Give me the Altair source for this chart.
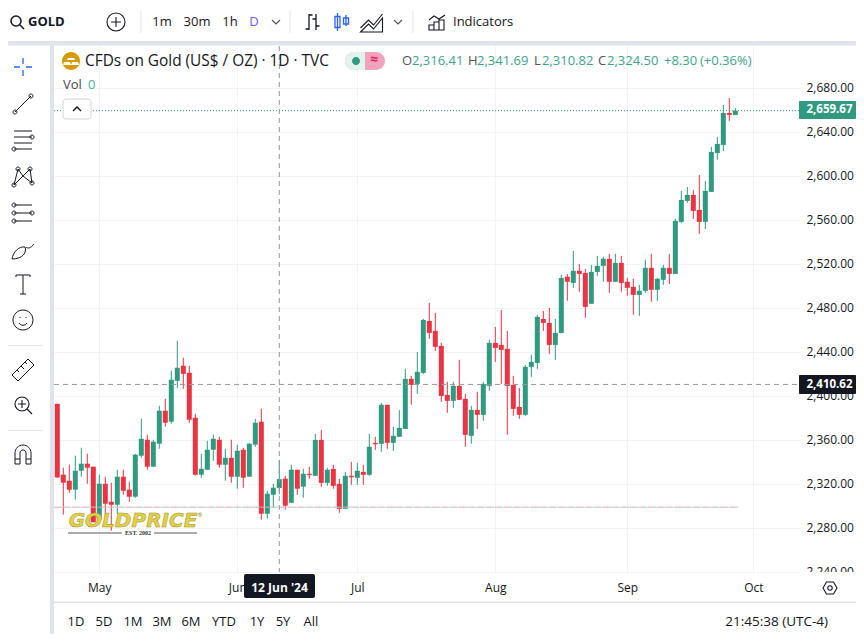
import altair as alt
import pandas as pd

FONT = "Open Sans"
UP, DOWN = "#2f9a7f", "#ea3343"
INK = "#131722"
BAND = "#e0e3eb"
GRID = "#f1f3f6"

# Left-to-right daily candles, 22 Apr 2024 to 26 Sep 2024 (weekdays only)
opens = [2393.0,2328.5,2323.0,2314.9,2332.1,2338.5,2335.8,2287.6,2320.3,2303.9,2301.2,2326.7,2314.9,2308.5,2345.8,2360.3,2335.8,2356.7,2386.7,2376.7,
         2413.9,2427.6,2421.2,2380.3,2328.5,2333.0,2351.2,2360.3,2337.6,2343.9,2326.7,2351.2,2326.7,2355.8,2376.7,2293.0,2310.3,2316.41,2324.9,2303.0,
         2333.0,2317.6,2329.3,2327.5,2360.2,2321.1,2333.9,2320.2,2297.5,2327.5,2325.7,2331.1,2328.4,2357.5,2356.6,2392.1,2357.5,2363.0,2370.2,2415.7,
         2411.1,2421.1,2468.4,2459.3,2445.7,2401.1,2395.7,2409.3,2397.5,2363.9,2387.5,2383.0,2409.3,2448.4,2446.6,2443.0,2410.2,2390.2,2383.0,2426.6,
         2430.2,2470.2,2466.6,2446.6,2457.5,2508.5,2503.0,2514.0,2512.1,2484.0,2513.0,2518.5,2524.9,2504.0,2521.2,2504.0,2499.4,2492.1,2495.8,2516.7,
         2496.7,2505.8,2516.7,2511.2,2558.5,2577.6,2583.0,2569.4,2558.5,2585.8,2621.2,2628.5,2657.6,2655.8]
highs = [2393.0,2334.9,2337.6,2345.8,2353.0,2347.6,2335.8,2328.5,2326.7,2321.2,2333.0,2333.0,2322.1,2347.6,2379.4,2364.9,2360.3,2391.2,2397.6,2423.0,
         2450.3,2434.9,2427.6,2383.9,2347.6,2359.4,2364.9,2363.0,2352.1,2360.3,2355.8,2353.0,2357.6,2379.4,2388.5,2313.9,2320.3,2341.69,2327.6,2337.6,
         2333.0,2333.9,2335.7,2365.7,2369.3,2334.8,2337.5,2324.8,2331.1,2340.2,2339.3,2337.5,2365.7,2363.0,2393.9,2392.1,2372.1,2387.5,2424.8,2418.4,
         2440.2,2470.2,2484.8,2475.7,2448.4,2413.0,2413.0,2433.0,2402.1,2391.1,2403.9,2413.0,2451.1,2463.0,2478.4,2459.3,2418.4,2407.5,2428.4,2437.5,
         2473.9,2477.5,2480.2,2470.2,2510.3,2511.2,2532.1,2520.3,2515.8,2519.4,2527.6,2526.7,2529.4,2529.4,2527.6,2507.6,2506.7,2501.2,2524.0,2529.4,
         2507.6,2519.4,2529.4,2561.2,2586.7,2590.3,2587.6,2601.2,2595.8,2626.7,2635.8,2664.9,2671.2,2662.1]
lows = [2325.5,2292.1,2312.1,2305.8,2326.7,2320.3,2285.2,2287.0,2290.6,2277.6,2293.0,2310.3,2303.9,2307.6,2343.9,2333.0,2335.8,2352.1,2372.1,2374.9,
        2407.6,2406.7,2375.8,2327.6,2325.8,2333.0,2341.2,2334.9,2323.0,2321.2,2315.8,2316.7,2326.7,2353.9,2287.6,2288.5,2298.5,2310.82,2296.7,2303.0,
        2310.3,2307.6,2324.8,2327.5,2317.5,2318.4,2315.7,2293.9,2297.5,2319.3,2319.3,2319.3,2327.5,2351.1,2349.3,2352.1,2350.2,2363.0,2370.2,2392.1,
        2402.1,2420.2,2452.1,2441.1,2394.8,2384.8,2389.3,2396.6,2353.9,2356.6,2370.2,2377.5,2404.8,2431.1,2411.1,2364.8,2382.1,2379.3,2382.1,2417.5,
        2424.8,2459.3,2438.4,2433.0,2457.0,2486.7,2498.5,2494.9,2471.2,2484.0,2509.4,2504.0,2494.0,2504.0,2494.9,2491.2,2474.0,2473.0,2494.0,2485.8,
        2486.7,2501.2,2502.1,2511.2,2557.6,2575.8,2561.2,2547.6,2552.1,2585.8,2614.9,2623.0,2650.3,2655.8]
closes = [2326.1,2321.2,2314.9,2332.1,2338.5,2334.9,2285.2,2320.3,2302.1,2301.2,2326.7,2313.9,2308.5,2346.7,2361.2,2335.8,2358.5,2386.7,2375.8,2414.9,
          2425.8,2420.3,2378.5,2328.5,2333.9,2351.2,2361.2,2337.6,2343.9,2326.7,2350.3,2325.8,2356.7,2375.8,2293.0,2311.2,2316.7,2324.50,2300.3,2333.0,
          2315.8,2329.4,2328.4,2360.2,2321.1,2333.0,2318.4,2297.5,2327.5,2326.6,2332.1,2328.4,2353.9,2356.6,2392.1,2357.5,2363.9,2371.1,2415.7,2410.2,
          2422.1,2469.3,2457.5,2444.8,2400.2,2395.7,2409.3,2396.6,2364.8,2387.5,2383.0,2411.1,2448.4,2443.9,2442.1,2409.3,2388.4,2383.0,2426.6,2431.1,
          2472.1,2466.6,2446.6,2457.5,2507.5,2504.0,2514.0,2511.2,2481.2,2513.0,2518.5,2524.9,2504.0,2521.2,2503.0,2498.5,2492.1,2495.8,2516.7,2496.7,
          2506.7,2516.7,2511.2,2559.4,2578.5,2583.0,2568.5,2558.5,2586.7,2622.1,2629.4,2657.6,2655.8,2659.67]

month_ticks = [7, 30, 50, 73, 95, 116]
month_names = ["May", "Jun", "Jul", "Aug", "Sep", "Oct"]
price_ticks = list(range(2240, 2681, 40))

last_price = 2659.67
cross_price = 2410.62
cross_bar = 37
low_price = 2299.0

ranges = ["1D", "5D", "1M", "3M", "6M", "YTD", "1Y", "5Y", "All"]
range_x = [76, 104, 133, 162, 191, 224, 257, 283, 311]
intervals = ["1m", "30m", "1h"]
interval_x = [162, 197, 230]
ohlc_letters = ["O", "H", "L", "C"]
ohlc_letter_x = [402, 468, 534, 598]
ohlc_values = ["2,316.41", "2,341.69", "2,310.82", "2,324.50", "+8.30", "(+0.36%)"]
ohlc_value_x = [412, 477, 542, 607, 664, 700]

n = len(closes)
df = pd.DataFrame({"i": range(n), "o": opens, "h": highs, "l": lows, "c": closes})
df["top"] = df[["o", "c"]].max(axis=1)
df["bot"] = df[["o", "c"]].min(axis=1)
df["up"] = df["c"] >= df["o"]

PL, PT, PW, PH = 54, 46, 746, 526          # plot area, in page pixels
PAGE_W, PAGE_H = 856, 634                  # the page margin leaves this much
XS = alt.Scale(domain=[-0.55, 123.78], nice=False, zero=False, padding=0)
YS = alt.Scale(domain=[2240.0, 2718.5], nice=False, zero=False, padding=0)
XA = alt.Axis(values=month_ticks, orient="bottom", domain=False, ticks=False, labelPadding=10, grid=True,
              gridColor=GRID, gridWidth=1, labelFont=FONT, labelFontSize=12, labelColor=INK, title=None,
              labelExpr="{" + ",".join(f"{t}:'{m}'" for t, m in zip(month_ticks, month_names)) + "}[datum.value]")
YA = alt.Axis(values=price_ticks, orient="right", domain=False, ticks=False, labelPadding=6, grid=True, format=",.2f",
              gridColor=GRID, gridWidth=1, labelFont=FONT, labelFontSize=12, labelColor=INK, labelOffset=-1, title=None)
colour = alt.Color("up:N", scale=alt.Scale(domain=[True, False], range=[UP, DOWN]), legend=None)
ONE = alt.Data(values=[{"a": 1}])


def px(v):
    return alt.value(v - PL)


def py(v):
    return alt.value(v - PT)


def box(x0, y0, x1, y1, color, **kw):
    return alt.Chart(ONE).mark_rect(color=color, **kw).encode(x=px(x0), x2=px(x1), y=py(y0), y2=py(y1))


def text(s, x, y, size=13, color=INK, align="left", weight="normal", font=FONT, **kw):
    return alt.Chart(ONE).mark_text(text=s, fontSize=size, color=color, align=align, baseline="middle",
                                    fontWeight=weight, font=font, **kw).encode(x=px(x), y=py(y))


def icon(path, x, y, color=INK, sw=1.0, fill=None):
    kw = dict(shape=path, size=4, opacity=1, stroke=color, strokeWidth=sw)
    kw.update(filled=True, fill=fill) if fill else kw.update(filled=False)
    return alt.Chart(ONE).mark_point(**kw).encode(x=px(x), y=py(y))


def circ(r, cx=0, cy=0):
    return f"M{cx+r} {cy}A{r} {r} 0 1 0 {cx-r} {cy}A{r} {r} 0 1 0 {cx+r} {cy}Z"


layers = []

# candles with the axes
wick = alt.Chart(df).mark_rule(strokeWidth=1).encode(
    x=alt.X("i:Q", scale=XS, axis=XA), y=alt.Y("l:Q", scale=YS, axis=YA), y2="h:Q", color=colour)
body = alt.Chart(df).mark_bar(size=5, strokeWidth=0).encode(
    x=alt.X("i:Q", scale=XS, axis=XA), y=alt.Y("bot:Q", scale=YS, axis=YA), y2="top:Q", color=colour)
flat = alt.Chart(df[(df.top - df.bot) < 1.2]).mark_tick(size=5, thickness=1, orient="horizontal").encode(
    x=alt.X("i:Q", scale=XS, axis=XA), y=alt.Y("c:Q", scale=YS, axis=YA), color=colour)
layers += [wick, body, flat]


def hline(price, color, dash, x0=-0.55, x1=123.78, offset=0):
    return alt.Chart(ONE).mark_rule(color=color, strokeDash=dash, strokeDashOffset=offset, strokeWidth=1).encode(
        x=alt.X(datum=x0, scale=XS, axis=XA), x2=alt.X2(datum=x1), y=alt.Y(datum=price, scale=YS, axis=YA))


layers += [
    hline(low_price, "#f4a5aa", [5, 4], x1=113.5),
    hline(low_price, "#9dd3c6", [4, 5], x1=113.5, offset=4.5),
    hline(last_price, UP, [1, 2]),
    hline(cross_price, "#9598a1", [5, 4]),
    alt.Chart(ONE).mark_rule(color="#9598a1", strokeDash=[5, 4], strokeWidth=1).encode(
        x=alt.X(datum=cross_bar, scale=XS, axis=XA), y=py(PT), y2=py(PT + PH)),
]

# logo
layers += [
    text("GOLDPRICE", 133, 520.5, size=20, color="#e0d04a", align="center", weight="bold", font="DejaVu Sans",
         fontStyle="italic", stroke="#a8921a", strokeWidth=0.5),
    text("®", 200, 515, size=6, color="#8a7a20", align="center"),
    box(68, 532.5, 122, 533.5, "#5a5a5a"),
    box(154, 532.5, 197, 533.5, "#5a5a5a"),
    text("EST. 2002", 138, 533, size=6, color="#333333", align="center", weight="bold", font="Liberation Serif"),
]

# chart header
layers += [
    icon(circ(9), 71, 61, color="#d59c00", sw=0, fill="#d59c00"),
    icon("M-3 -3H3L4 -1H-4ZM-7 1H-1L0 4H-8ZM1 1H7L8 4H0Z", 71, 61, color="#ffffff", sw=0, fill="#ffffff"),
    text("CFDs on Gold (US$ / OZ) · 1D · TVC", 85, 61, size=15.4),
    text("Vol", 63, 85, size=13, color="#444a55"),
    text("0", 88, 85, size=13, color="#4bb39b"),
    box(345, 52, 385, 70, "#f0a3bd", cornerRadius=9),
    box(345, 52, 365, 70, "#e4f2ee", cornerRadiusTopLeft=9, cornerRadiusBottomLeft=9),
    icon(circ(4), 356, 61, color=UP, sw=0, fill=UP),
    text("≈", 374, 60, size=14, color="#e0245e", align="center", weight="bold"),
    box(63, 99, 91, 119, "#ffffff", cornerRadius=3, stroke="#d1d4dc", strokeWidth=1),
    icon("M-4 2L0 -2L4 2", 77, 109, sw=1.4),
]
for s, x in zip(ohlc_letters, ohlc_letter_x):
    layers.append(text(s, x, 61, size=13, color="#50535e"))
for s, x in zip(ohlc_values, ohlc_value_x):
    layers.append(text(s, x, 61, size=13, color="#3ba58b"))

# gutters
layers += [
    box(8, 41, PAGE_W, 45.5, BAND),
    box(50, 41, 54, PAGE_H, BAND),
    box(54, 601.5, PAGE_W, 603, BAND),
    box(801, 572, PAGE_W, 580, "#ffffff"),
]

# price and date tags
layers += [
    box(799, 101, PAGE_W, 119, UP, cornerRadius=1),
    text("2,659.67", 829.5, 110, size=11.5, color="#ffffff", align="center", weight="bold"),
    box(799, 375, PAGE_W, 394, INK, cornerRadius=1),
    text("2,410.62", 829.5, 384.5, size=11.5, color="#ffffff", align="center", weight="bold"),
    box(244, 574, 315, 598, INK, cornerRadius=2),
    text("12 Jun '24", 279.5, 588, size=12, color="#ffffff", align="center", weight="bold"),
    icon("M-7 0L-3.5 -6H3.5L7 0L3.5 6H-3.5Z" + circ(2.2), 830, 588, sw=1.1),
]

# bottom bar
for s, x in zip(ranges, range_x):
    layers.append(text(s, x, 622, size=13, align="center"))
layers.append(text("21:45:38 (UTC-4)", 828, 622, size=13.5, align="right"))

# top bar
layers += [
    icon(circ(5, -1, -1) + "M3 3L7 7", 17, 22, sw=1.5),
    text("GOLD", 28, 22, size=13, weight="bold"),
    icon(circ(9) + "M-5 0H5M0 -5V5", 116, 22, sw=1.1),
    box(140.5, 11, 141.5, 33, BAND),
    box(289.5, 11, 290.5, 33, BAND),
    box(412.5, 11, 413.5, 33, BAND),
    text("D", 254, 22, size=13, color="#6a5cff", align="center"),
    icon("M-4 -2L0 2L4 -2", 276, 22, sw=1.2, color="#50535e"),
    icon("M-4 -2L0 2L4 -2", 398, 22, sw=1.2, color="#50535e"),
    icon("M-3.5 -8V8M-3.5 -7H-0M-3.5 7H-7M3.5 -8V8M3.5 4H7M3.5 -3H0", 312.5, 22, sw=1.3),
    icon("M-4.5 -9V9M-7 -5.5H-2V5.5H-7ZM4 -7V4M1.5 -4H6.5V2H1.5Z", 342, 22, color="#2962ff", sw=1.3),
    icon("M-11 6L-3 -2L2 3L11 -8M-11 10L-3 2L2 7L11 -4V10H-11Z", 371.5, 22, sw=1.1),
    icon("M-8 -2L-3 -6L2 -3L8 -7M-8 8V3H-3V8ZM-3 8V0H2V8ZM2 8V-2H7V8ZM-8 8H7", 437, 22, sw=1.1),
    text("Indicators", 453, 22, size=13),
]
for s, x in zip(intervals, interval_x):
    layers.append(text(s, x, 22, size=13, align="center"))

# left toolbar
layers += [
    icon("M0 -9V-3M0 3V9M-9 0H-3M3 0H9", 23, 67, color="#2962ff", sw=1.3),
    icon("M-8 8L8 -8" + circ(2, -8, 8) + circ(2, 8, -8), 23, 104, sw=1),
    icon("M-9 -8H9M-9 -2H9M-9 4H9M-9 10H9" + circ(2, 9, -2) + circ(2, -9, 10), 23, 139, sw=1),
    icon("M-9 8L-5 -8L0 -1L7 -8L9 6L0 -1Z" + circ(2, -9, 8) + circ(2, -5, -8) + circ(2, 7, -8) + circ(2, 9, 6), 23, 177, sw=1),
    icon("M-9 -8H9M-9 0H9M-9 8H9" + circ(2, -9, -8) + circ(2, -9, 0) + circ(2, 9, 0) + circ(2, -9, 8), 23, 213, sw=1),
    icon("M-11 9C-10 2 -4 -4 2 -3C4 2 0 9 -11 9ZM3 -3C5 -1 8 -2 11 -6", 23, 250, sw=1),
    icon("M-7 -8V-10H7V-8M0 -10V9M-3 9H3", 23, 285, sw=1),
    icon(circ(10) + "M-4 3C-2 6 2 6 4 3M-3 -3V-2M3 -3V-2", 23, 320, sw=1),
    box(8, 345, 42, 346, BAND),
    icon("M-11 5L5 -11L11 -5L-5 11ZM-6 0L-4 2M-2 -4L1 -1M2 -8L4 -6", 23, 370, sw=1),
    icon(circ(7, -1, -1) + "M-5 -1H3M-1 -5V3M4 4L9 9", 23, 405, sw=1.1),
    box(8, 430, 42, 431, BAND),
    icon("M-8 9V-2A8 8 0 0 1 8 -2V9H3V-2A3 3 0 0 0 -3 -2V9ZM-8 4H-3M3 4H8", 23, 455, sw=1),
]

chart = alt.layer(*layers).properties(
    width=PW, height=PH, autosize=alt.AutoSizeParams(type="none"),
    padding={"left": PL - 8, "top": PT - 8, "right": PAGE_W - PL - PW, "bottom": PAGE_H - PT - PH},
    background="#ffffff",
).configure_view(strokeWidth=0)

chart.save("out.html", embed_options={"renderer": "svg", "actions": False})
